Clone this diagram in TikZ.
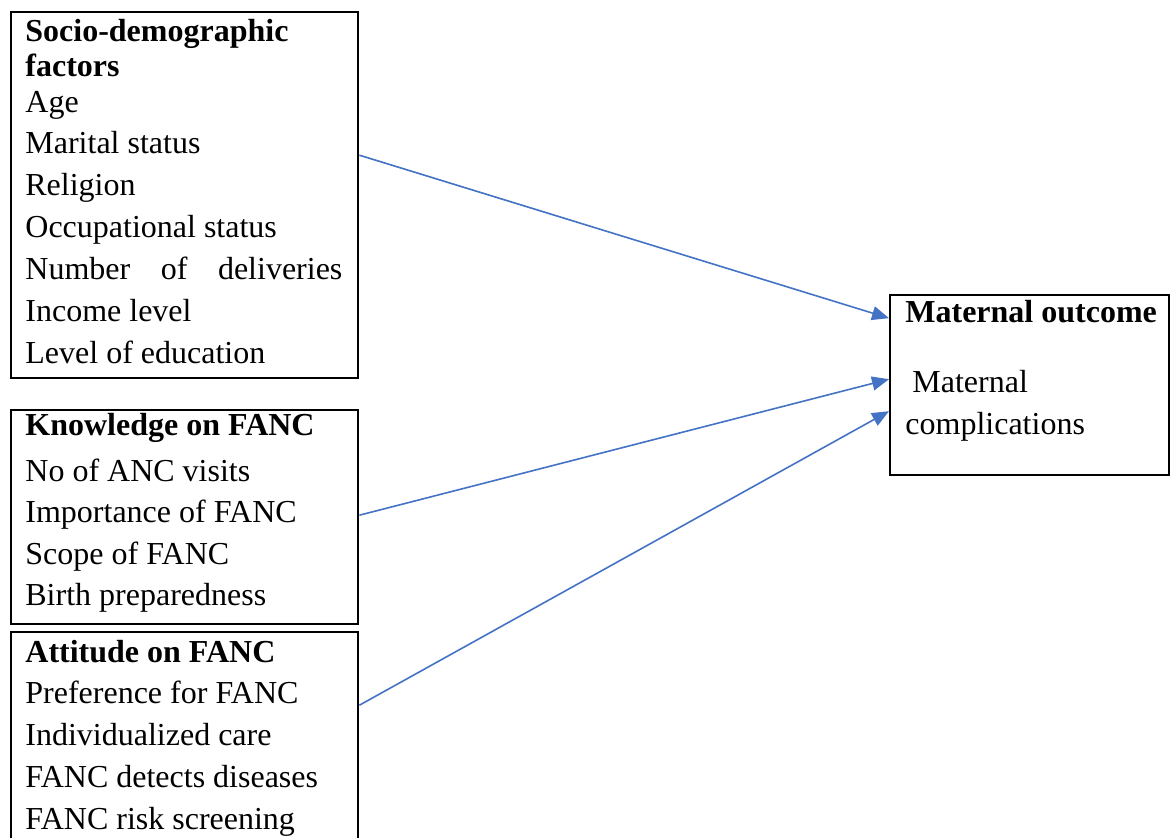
\documentclass[tikz,border=0pt]{standalone}
\usepackage{fontspec}
\setmainfont{Liberation Serif}
\usepackage{xcolor}
\usepackage{tikz}
\usetikzlibrary{shapes,arrows.meta,positioning}

\definecolor{linkblue}{RGB}{68,114,196}

\begin{document}
\begin{tikzpicture}[x=0.5pt, y=-0.5pt,
    frame/.style={draw, rectangle, line width=1.2pt, inner sep=0pt, anchor=north west},
    items/.style={text width=#1, align=left, anchor=base west, inner sep=0pt,
        font=\fontsize{16}{21}\selectfont,
        execute at begin node={\spaceskip=0pt\xspaceskip=0pt\relax}},
    items/.default=158.5pt,
    link/.style={-{Triangle[length=8.5pt, width=7pt]}, line width=0.8pt, linkblue}]
\useasboundingbox (0,0) rectangle (1170,838);

% the three groups of factors
\node[frame, minimum width=173.5pt, minimum height=183pt] (socbox) at (10,11) {};
\node[items] (soctext) at (25,42) {
    \textbf{Socio-demographic}\\[-3.5pt]
    \textbf{factors}\\[-3pt]
    Age\\[-0.5pt]
    Marital status\\
    Religion\\
    Occupational status\\
    \makebox[158.5pt][l]{Number\hfill of\hfill deliveries}\\
    Income level\\
    Level of education
};

\node[frame, minimum width=173.5pt, minimum height=107pt] (knowbox) at (10,409) {};
\node[items] (knowtext) at (25,436) {
    \textbf{Knowledge on FANC}\\[2pt]
    No of ANC visits\\[-0.5pt]
    Importance of FANC\\
    Scope of FANC\\[-0.5pt]
    Birth preparedness
};

\node[frame, minimum width=173.5pt, minimum height=114.5pt] (attbox) at (10,631) {};
\node[items] (atttext) at (25,662) {
    \textbf{Attitude on FANC}\\[-0.5pt]
    Preference for FANC\\
    Individualized care\\
    FANC detects diseases\\
    FANC risk screening
};

% outcome
\node[frame, minimum width=139.5pt, minimum height=90pt] (outbox) at (889,294) {};
\node[items=130pt] (outtext) at (905,323) {
    \textbf{Maternal outcome}\\[14pt]
    \hspace{3.5pt}Maternal\\
    complications
};

\draw[link] ([yshift=20pt]socbox.east) -- ([yshift=33.5pt]outbox.west);
\draw[link] ([yshift=1pt]knowbox.east) -- ([yshift=3pt]outbox.west);
\draw[link] ([yshift=20.75pt]attbox.east) -- ([yshift=-13pt]outbox.west);
\end{tikzpicture}
\end{document}
